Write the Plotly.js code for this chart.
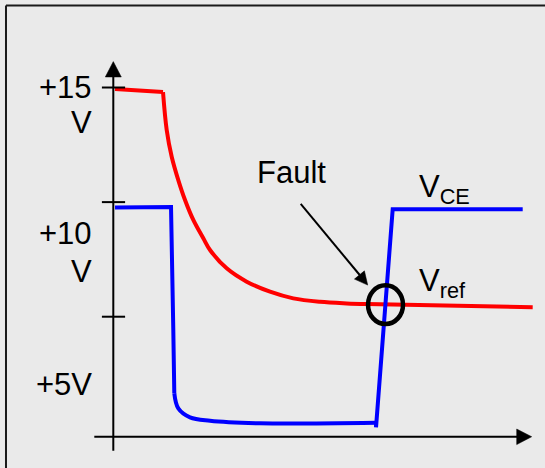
<!DOCTYPE html>
<html>
<head>
<meta charset="utf-8">
<script src="https://cdn.plot.ly/plotly-3.0.1.min.js"></script>
<style>
  html, body { margin: 0; padding: 0; background: #eaeaea; }
  #chart { width: 545px; height: 468px; }
</style>
</head>
<body>
<div id="chart"></div>
<script>
// ---- Data (time in arbitrary units, voltage in V) ----
const timeRef = [0.43, 12.43, 13.35, 14.60, 16.25, 17.93, 20.0, 22.5, 24.18, 28.35, 33.35, 39.18, 45.0, 51.68, 58.35, 63.35, 104.85];
const vRef    = [14.93, 14.80, 13.15, 11.98, 10.96, 10.09, 9.22, 8.42, 7.91, 7.11, 6.53, 6.09, 5.80, 5.65, 5.58, 5.55, 5.41];

const timeCE = [0.43, 14.43, 15.0, 15.25, 16.25, 19.18, 24.18, 36.68, 65.68, 65.68, 69.85, 102.35];
const vCE    = [9.77, 9.79, 4.42, 1.66, 1.00, 0.61, 0.46, 0.35, 0.375, 0.175, 9.69, 9.69];

const tickVals   = [15, 10, 5];
const tickLabels = [["+15", "V"], ["+10", "V"], ["+5V"]];
const seriesLabels = ["V<sub>ref</sub>", "V<sub>CE</sub>"];
const faultLabel = "Fault";

// ---- Layout helpers (positions / styles) ----
const FONT = { family: "Liberation Sans, Arial, sans-serif", size: 31, color: "#000" };
const labelX = -4.9;                       // right edge of tick labels
const labelLineY = [[15.02, 13.47], [8.65, 6.99], [2.05]];

// piecewise: straight segments at sharp corners, smooth spline on the curved parts
function seg(xs, ys, i0, i1, color, smooth) {
  return { x: xs.slice(i0, i1 + 1), y: ys.slice(i0, i1 + 1), type: "scatter", mode: "lines",
    line: { color: color, width: 4, shape: smooth ? "spline" : "linear", smoothing: 1 },
    hoverinfo: "skip", showlegend: false };
}
const RED = "rgb(255,0,0)", BLUE = "rgb(0,0,255)";
const traces = [
  seg(timeRef, vRef, 0, 1, RED, false),
  seg(timeRef, vRef, 1, timeRef.length - 1, RED, true),
  seg(timeCE, vCE, 0, 3, BLUE, false),
  seg(timeCE, vCE, 3, 8, BLUE, true),
  seg(timeCE, vCE, 8, timeCE.length - 1, BLUE, false)
];

const BLACK = "#000";
function dline(x0, y0, x1, y1, w) {
  return { type: "line", xref: "x", yref: "y", x0: x0, y0: y0, x1: x1, y1: y1, line: { color: BLACK, width: w } };
}
function tri(pts) {
  return { type: "path", xref: "x", yref: "y",
    path: "M" + pts.map(p => p[0] + "," + p[1]).join(" L") + " Z",
    fillcolor: BLACK, line: { color: BLACK, width: 0.5 } };
}

const shapes = [];
// frame (top and left edges)
shapes.push({ type: "line", xref: "paper", yref: "paper", x0: 0.011, x1: 1.01, y0: 0.988, y1: 0.988, line: { color: "#1a1a1a", width: 2 } });
shapes.push({ type: "line", xref: "paper", yref: "paper", x0: 0.011, x1: 0.011, y0: -0.01, y1: 0.988, line: { color: "#1a1a1a", width: 2 } });
// x axis with arrowhead
shapes.push(dline(-4.75, -0.236, 101.2, -0.236, 2));
shapes.push(tri([[104.6, -0.236], [100.85, 0.10], [100.85, -0.58]]));
// y axis with arrowhead
shapes.push(dline(0, -0.846, 0, 15.6, 2));
shapes.push(tri([[0, 16.13], [-2.0, 15.46], [2.0, 15.46]]));
// crossing ticks on the y axis
tickVals.forEach(v => shapes.push(dline(-2.85, v, 2.95, v, 2)));
// fault arrow
shapes.push(dline(46.85, 9.92, 61.6, 6.82, 2));
shapes.push(tri([[63.6, 6.38], [60.28, 6.64], [62.78, 7.0]]));
// fault circle
shapes.push({ type: "circle", xref: "x", yref: "y", x0: 63.68, x1: 72.43, y0: 4.68, y1: 6.37, line: { color: BLACK, width: 4.5 } });

const annotations = [];
// tick labels
tickLabels.forEach((lines, i) => lines.forEach((txt, j) => annotations.push({
  x: labelX, y: labelLineY[i][j], xref: "x", yref: "y", text: txt, showarrow: false,
  xanchor: "right", yanchor: "middle", font: FONT })));
// texts
annotations.push({ x: 44.55, y: 11.29, xref: "x", yref: "y", text: faultLabel, showarrow: false, xanchor: "center", yanchor: "middle", font: FONT });
annotations.push({ x: 75.8, y: 10.58, xref: "x", yref: "y", text: seriesLabels[1], showarrow: false, xanchor: "left", yanchor: "middle", font: FONT });
annotations.push({ x: 75.8, y: 6.47, xref: "x", yref: "y", text: seriesLabels[0], showarrow: false, xanchor: "left", yanchor: "middle", font: FONT });

const layout = {
  width: 545, height: 468,
  margin: { l: 0, r: 0, t: 0, b: 0, pad: 0 },
  paper_bgcolor: "#eaeaea", plot_bgcolor: "#eaeaea",
  showlegend: false,
  xaxis: { range: [-28.325, 107.925], visible: false, fixedrange: true },
  yaxis: { range: [-1.601, 18.818], visible: false, fixedrange: true },
  shapes: shapes,
  annotations: annotations
};

Plotly.newPlot("chart", traces, layout, { staticPlot: true, displayModeBar: false });
</script>
</body>
</html>
